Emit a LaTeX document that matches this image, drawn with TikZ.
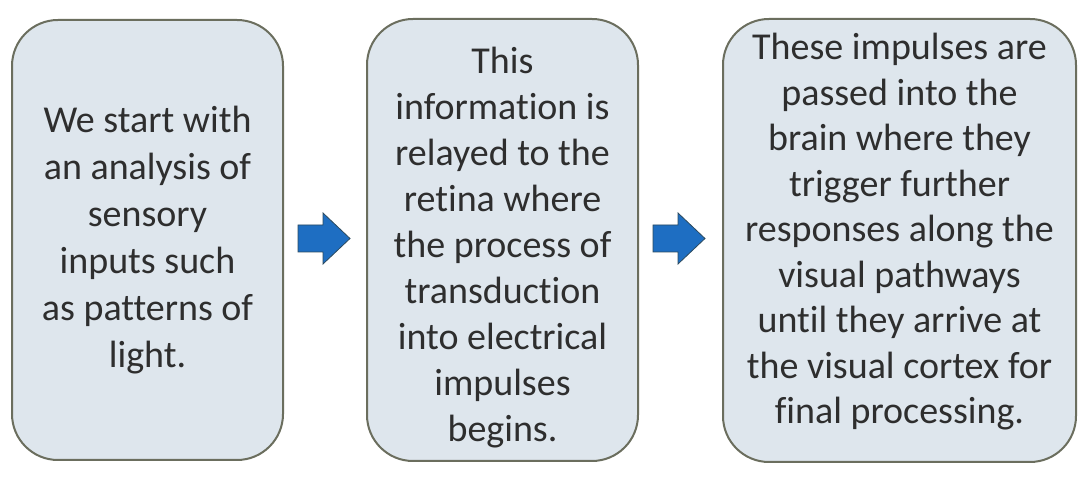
\documentclass[tikz,border=0pt]{standalone}
\usepackage{fontspec}
\setmainfont[Ligatures=NoCommon]{Carlito}
\definecolor{boxfill}{HTML}{DEE6ED}
\definecolor{boxline}{HTML}{6B6E5E}
\definecolor{arrowfill}{HTML}{1E6EC2}
\definecolor{arrowline}{HTML}{2C4A5E}
\begin{document}
\begin{tikzpicture}[x=1pt,y=1pt,
  stepbox/.style={draw=boxline,line width=2pt,fill=boxfill,rounded corners=46pt},
  boxtext/.style={align=center,text=black!82,inner sep=0pt},
  blockarrow/.style={fill=arrowfill,draw=arrowline,line width=0.8pt,line join=miter}]
\useasboundingbox[fill=white] (0,0) rectangle (1080,479);
% boxes
\draw[stepbox] (12,19) rectangle (283,459);
\draw[stepbox] (367,18) rectangle (638,460);
\draw[stepbox] (723,17) rectangle (1076,460);
\node[boxtext,font=\fontsize{38}{47}\selectfont] (t1) at (147.5,239) {We start with\\an analysis of\\sensory\\inputs such\\as patterns of\\light.};
\node[boxtext,font=\fontsize{38}{46}\selectfont] (t2) at (502.5,231) {This\\information is\\relayed to the\\retina where\\the process of\\transduction\\into electrical\\impulses\\begins.};
\node[boxtext,font=\fontsize{38}{45.5}\selectfont] (t3) at (899.5,247) {These impulses are\\passed into the\\brain where they\\trigger further\\responses along the\\visual pathways\\until they arrive at\\the visual cortex for\\final processing.};
% block arrows
\coordinate (a1) at (298,240.5);
\coordinate (a2) at (653,240.5);
\foreach \c in {a1,a2}{
  \draw[blockarrow] (\c) ++(0,13.5) -- ++(25,0) -- ++(0,12) -- ++(27,-25.5) -- ++(-27,-25.5) -- ++(0,12) -- ++(-25,0) -- cycle;
}
\end{tikzpicture}
\end{document}
